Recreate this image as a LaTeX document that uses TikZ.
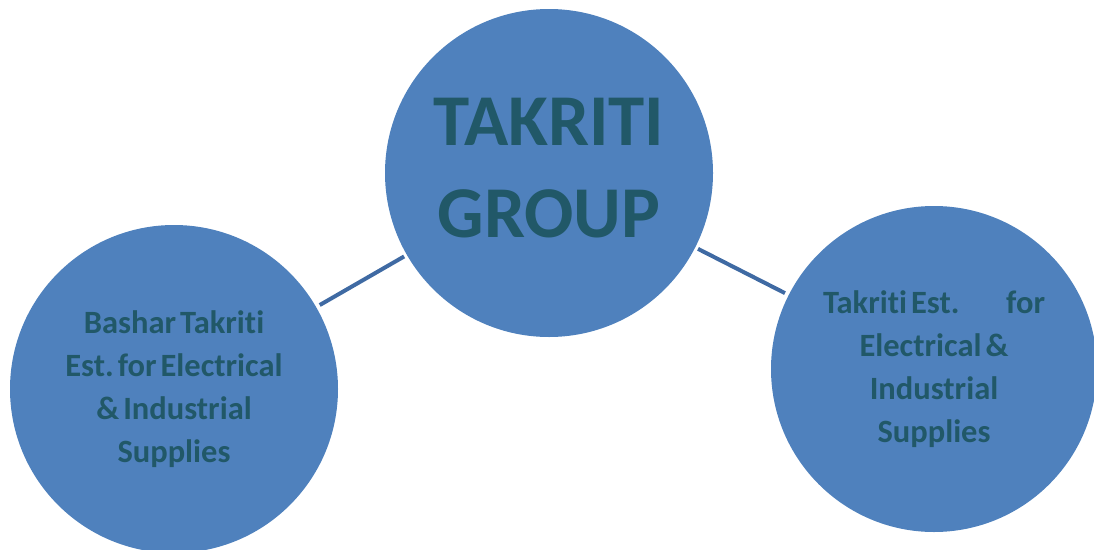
\documentclass[tikz,border=0pt]{standalone}
\usepackage{fontspec}
\setmainfont{Carlito}[Ligatures={NoCommon}, WordSpace={0.55}]
\frenchspacing
\definecolor{cfill}{HTML}{4F81BD}
\definecolor{ctext}{RGB}{33,88,104}
\definecolor{cline}{RGB}{63,106,163}
\begin{document}
\begin{tikzpicture}[x=1pt,y=-1pt,
  orb/.style={circle, fill=cfill, minimum size=#1, inner sep=0pt, text=ctext, align=center},
  bigtxt/.style={font=\bfseries\fontsize{73}{92}\selectfont},
  smalltxt/.style={font=\bfseries\fontsize{32.5}{43}\selectfont},
  conn/.style={draw=cline, line width=4pt, shorten >=3pt, shorten <=4pt}]
\useasboundingbox (0,0) rectangle (1094,549);
\node[orb=328pt] (g) at (549,173) {};
\node[bigtxt, text=ctext, align=center] (gt) at (549,168) {TAKRITI\\GROUP};
\node[orb=328pt, smalltxt] (l) at (174,389) {Bashar Takriti\\Est. for Electrical\\\& Industrial\\Supplies};
\node[orb=326pt, smalltxt] (r) at (934,369) {\makebox[222pt]{Takriti Est.\hfill for}\\Electrical \&\\Industrial\\Supplies};
\draw[conn] (l) -- (g);
\draw[conn] (r) -- (g);
\end{tikzpicture}
\end{document}
